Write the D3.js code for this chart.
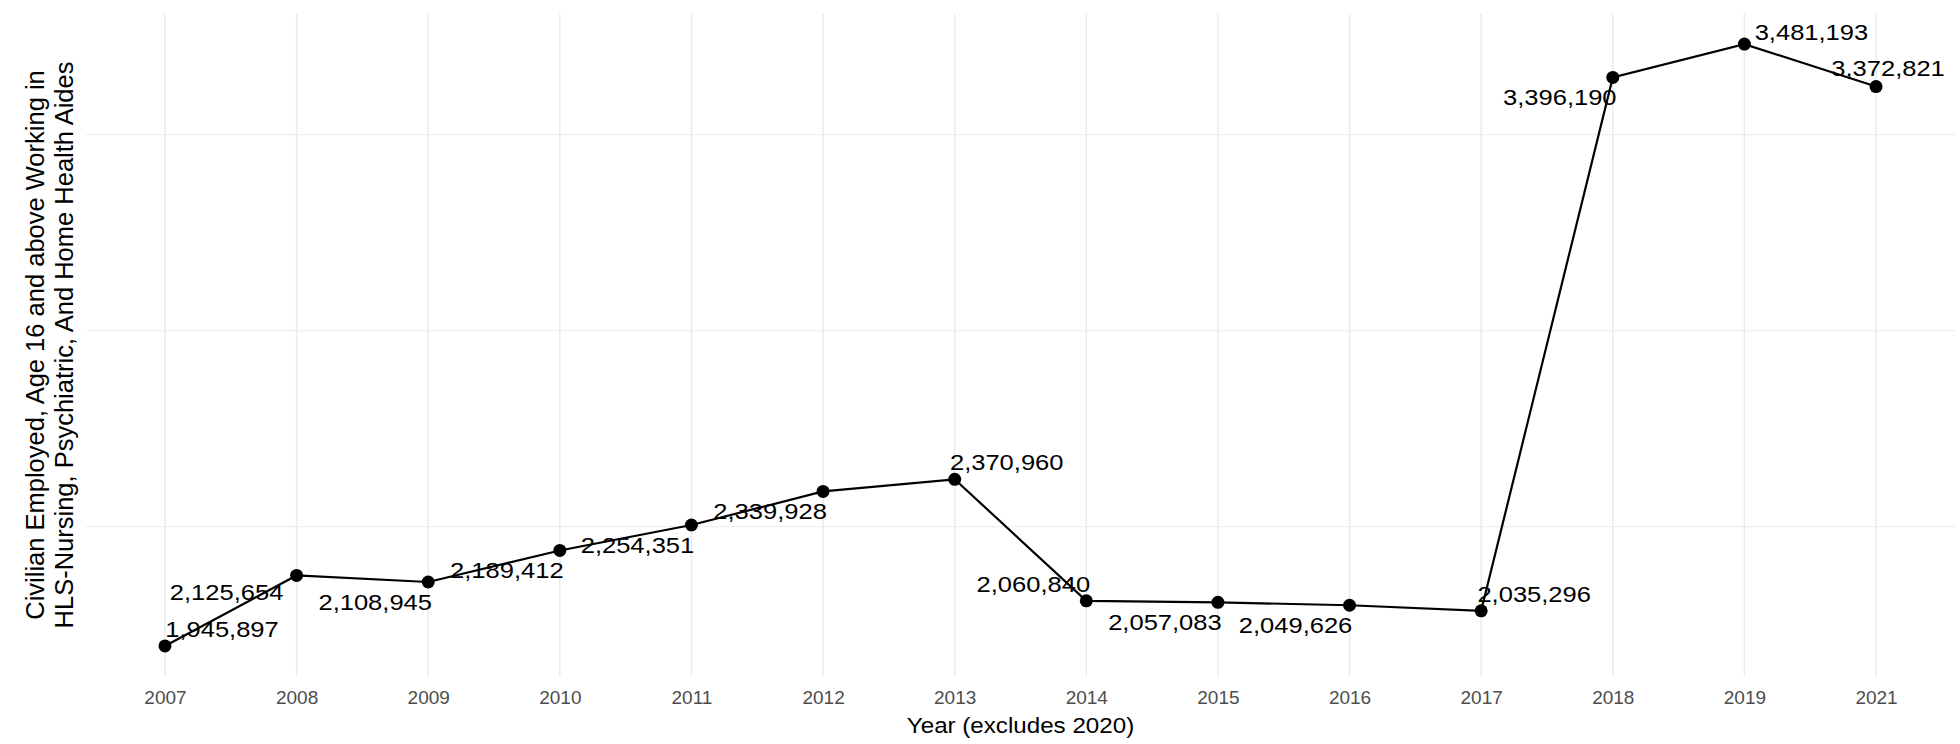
<!DOCTYPE html>
<html>
<head>
<meta charset="utf-8">
<script src="https://cdn.jsdelivr.net/npm/d3@7"></script>
<style>
  body { margin: 0; background: #fff; }
  text { font-family: "Liberation Sans", Arial, sans-serif; }
</style>
</head>
<body>
<div id="chart"></div>
<script>
// data (2020 is missing in the source)
var years = ["2007", "2008", "2009", "2010", "2011", "2012", "2013",
             "2014", "2015", "2016", "2017", "2018", "2019", "2021"];
var workers = [1945897, 2125654, 2108945, 2189412, 2254351, 2339928, 2370960,
               2060840, 2057083, 2049626, 2035296, 3396190, 3481193, 3372821];
var gridValues = [2250000, 2750000, 3250000];

// where each value label sits relative to its point (hand placed, like a repel)
var labelNudge = [[57, -9], [-70, 25], [-53, 28], [-53, 28], [-54, 28], [-53, 28], [52, -9],
                  [-53, -9], [-53, 28], [-54, 28], [53, -9], [-53, 28], [67, -4], [12, -11]];

var W = 1960, H = 744;
var MARGIN = {LEFT: 86, RIGHT: 5, TOP: 14, BOTTOM: 68};
var SX = 1.12;   // the reference text is a bit wider than plain Arial

var data = years.map(function(y, i) { return {year: y, value: workers[i], nudge: labelNudge[i]}; });

var svg = d3.select("#chart").append("svg")
    .attr("width", W)
    .attr("height", H);

var x = d3.scalePoint()
    .domain(years)
    .range([MARGIN.LEFT, W - MARGIN.RIGHT])
    .padding(0.6);

// ggplot style 5% expansion of the data range
var ext = d3.extent(workers);
var pad = (ext[1] - ext[0]) * 0.05;
var y = d3.scaleLinear()
    .domain([ext[0] - pad, ext[1] + pad])
    .range([H - MARGIN.BOTTOM, MARGIN.TOP]);

// grid
svg.append("g")
    .selectAll("line")
    .data(gridValues)
    .enter()
    .append("line")
    .attr("x1", MARGIN.LEFT)
    .attr("x2", W - MARGIN.RIGHT)
    .attr("y1", function(d) { return y(d); })
    .attr("y2", function(d) { return y(d); })
    .attr("stroke", "#ebebeb")
    .attr("stroke-width", 1);

svg.append("g")
    .selectAll("line")
    .data(years)
    .enter()
    .append("line")
    .attr("x1", function(d) { return x(d); })
    .attr("x2", function(d) { return x(d); })
    .attr("y1", MARGIN.TOP)
    .attr("y2", H - MARGIN.BOTTOM)
    .attr("stroke", "#ebebeb")
    .attr("stroke-width", 1.5);

// x axis labels, no ticks or domain line
var xAxis = svg.append("g")
    .attr("transform", "translate(0," + (H - MARGIN.BOTTOM) + ")")
    .call(d3.axisBottom(x).tickSize(0).tickPadding(28));
xAxis.select(".domain").remove();
xAxis.selectAll("text")
    .attr("fill", "#4d4d4d")
    .style("font-family", "\"Liberation Sans\", Arial, sans-serif")
    .style("font-size", "19px")
    .attr("dy", 0);

// line and points
svg.append("path")
    .datum(data)
    .attr("fill", "none")
    .attr("stroke", "#000")
    .attr("stroke-width", 2.2)
    .attr("d", d3.line()
        .x(function(d) { return x(d.year); })
        .y(function(d) { return y(d.value); }));

svg.append("g")
    .selectAll("circle")
    .data(data)
    .enter()
    .append("circle")
    .attr("cx", function(d) { return x(d.year); })
    .attr("cy", function(d) { return y(d.value); })
    .attr("r", 6.5)
    .attr("fill", "#000");

// value labels
svg.append("g")
    .selectAll("text")
    .data(data)
    .enter()
    .append("text")
    .attr("transform", function(d) {
        return "translate(" + (x(d.year) + d.nudge[0]) + "," + (y(d.value) + d.nudge[1]) + ") scale(" + SX + ",1)";
    })
    .attr("text-anchor", "middle")
    .style("font-size", "22.8px")
    .attr("fill", "#000")
    .text(function(d) { return d3.format(",")(d.value); });

// axis titles
svg.append("text")
    .attr("transform", "translate(" + ((MARGIN.LEFT + W - MARGIN.RIGHT) / 2) + ",733) scale(1.14,1)")
    .attr("text-anchor", "middle")
    .style("font-size", "21.2px")
    .text("Year (excludes 2020)");

var yMid = (MARGIN.TOP + H - MARGIN.BOTTOM) / 2;
var yTitle = ["Civilian Employed, Age 16 and above Working in",
              "HLS-Nursing, Psychiatric, And Home Health Aides"];
svg.append("g")
    .selectAll("text")
    .data(yTitle)
    .enter()
    .append("text")
    .attr("transform", function(d, i) { return "translate(" + (44 + i * 29) + "," + yMid + ") rotate(-90)"; })
    .attr("text-anchor", "middle")
    .style("font-size", "25.5px")
    .text(function(d) { return d; });
</script>
</body>
</html>
